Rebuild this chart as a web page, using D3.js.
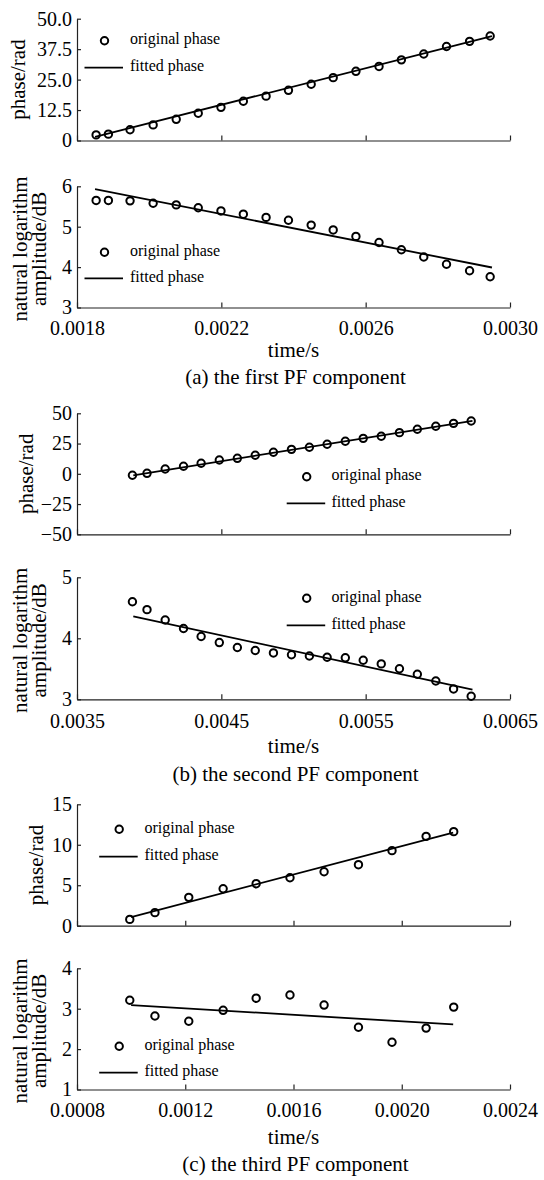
<!DOCTYPE html>
<html>
<head>
<meta charset="utf-8">
<script src="https://cdn.jsdelivr.net/npm/d3@7/dist/d3.min.js"></script>
<style>
  body { margin: 0; background: #fff; }
  svg text { font-family: "Liberation Serif", "Times New Roman", serif; fill: #000; }
</style>
</head>
<body>
<script>
// ---- (a) the first PF component ----
var timeA = [0.001853, 0.001887, 0.001947, 0.002011, 0.002075, 0.002136, 0.002199, 0.002261, 0.002324, 0.002386,
             0.002449, 0.002510, 0.002573, 0.002637, 0.002699, 0.002761, 0.002824, 0.002888, 0.002945];
var phaseA = [2.3, 2.6, 4.4, 6.4, 8.7, 11.2, 13.6, 16.1, 18.2, 20.6, 23.1, 25.8, 28.4, 30.4, 33.1, 35.5, 38.6, 40.7, 42.9];
var ampA = [5.65, 5.65, 5.64, 5.58, 5.54, 5.47, 5.39, 5.31, 5.23, 5.16, 5.04, 4.92, 4.76, 4.61, 4.43, 4.25, 4.07, 3.91, 3.76];
var fitTimeA = [0.00185, 0.00295];
var fitPhaseA = [1.5, 42.8];
var fitAmpA = [5.93, 3.99];
var xTicksA = [0.0018, 0.0022, 0.0026, 0.0030];
var xLabelsA = ["0.0018", "0.0022", "0.0026", "0.0030"];
var phaseTicksA = [0, 12.5, 25, 37.5, 50];
var phaseLabelsA = ["0", "12.5", "25.0", "37.5", "50.0"];
var ampTicksA = [3, 4, 5, 6];
var ampLabelsA = ["3", "4", "5", "6"];

// ---- (b) the second PF component ----
var timeB = [0.003884, 0.003985, 0.004111, 0.004238, 0.004360, 0.004486, 0.004611, 0.004735, 0.004861, 0.004986,
             0.005110, 0.005233, 0.005359, 0.005483, 0.005608, 0.005734, 0.005858, 0.005986, 0.006109, 0.006231];
var phaseB = [-1.2, 0.4, 4.0, 6.2, 8.7, 11.4, 12.8, 15.3, 17.8, 20.2, 21.9, 24.4, 26.9, 29.3, 31.0, 34.0, 36.8, 39.3, 41.7, 43.6];
var ampB = [4.60, 4.47, 4.30, 4.16, 4.03, 3.93, 3.85, 3.80, 3.76, 3.73, 3.71, 3.69, 3.68, 3.64, 3.58, 3.50, 3.41, 3.30, 3.17, 3.05];
var fitTimeB = [0.00389, 0.00624];
var fitPhaseB = [-1.3, 43.8];
var fitAmpB = [4.36, 3.16];
var xTicksB = [0.0035, 0.0045, 0.0055, 0.0065];
var xLabelsB = ["0.0035", "0.0045", "0.0055", "0.0065"];
var phaseTicksB = [-50, -25, 0, 25, 50];
var phaseLabelsB = ["\u221250", "\u221225", "0", "25", "50"];
var ampTicksB = [3, 4, 5];
var ampLabelsB = ["3", "4", "5"];

// ---- (c) the third PF component ----
var timeC = [0.000995, 0.001088, 0.001213, 0.001340, 0.001462, 0.001587, 0.001713, 0.001840, 0.001964, 0.002090, 0.002192];
var phaseC = [0.78, 1.61, 3.50, 4.57, 5.19, 5.93, 6.67, 7.54, 9.27, 11.04, 11.62];
var ampC = [3.21, 2.82, 2.69, 2.96, 3.26, 3.34, 3.09, 2.54, 2.17, 2.52, 3.04];
var fitTimeC = [0.0010, 0.00219];
var fitPhaseC = [1.07, 11.5];
var fitAmpC = [3.09, 2.61];
var xTicksC = [0.0008, 0.0012, 0.0016, 0.0020, 0.0024];
var xLabelsC = ["0.0008", "0.0012", "0.0016", "0.0020", "0.0024"];
var phaseTicksC = [0, 5, 10, 15];
var phaseLabelsC = ["0", "5", "10", "15"];
var ampTicksC = [1, 2, 3, 4];
var ampLabelsC = ["1", "2", "3", "4"];

var legendLabels = ["original phase", "fitted phase"];

// layout
var left = 77, right = 510;

var panels = [
  { caption: "(a) the first PF component", time: timeA, phase: phaseA, amp: ampA,
    fitTime: fitTimeA, fitPhase: fitPhaseA, fitAmp: fitAmpA,
    xTicks: xTicksA, xLabels: xLabelsA, phaseTicks: phaseTicksA, phaseLabels: phaseLabelsA,
    ampTicks: ampTicksA, ampLabels: ampLabelsA,
    phaseBox: [18.7, 140.5], ampBox: [186.3, 307.5], labelPad: 13, titleY: 357, captionY: 384,
    phaseLabelX: 25, phaseLeg: [104.5, 40.7, 67.7], ampLeg: [104.5, 252.3, 278.3], legX: 130 },
  { caption: "(b) the second PF component", time: timeB, phase: phaseB, amp: ampB,
    fitTime: fitTimeB, fitPhase: fitPhaseB, fitAmp: fitAmpB,
    xTicks: xTicksB, xLabels: xLabelsB, phaseTicks: phaseTicksB, phaseLabels: phaseLabelsB,
    ampTicks: ampTicksB, ampLabels: ampLabelsB,
    phaseBox: [413.3, 534.3], ampBox: [577.3, 699.3], labelPad: 15, titleY: 752.7, captionY: 780.5,
    phaseLabelX: 33, phaseLeg: [306.7, 476.7, 503.3], ampLeg: [306.7, 598.3, 625.3], legX: 331.5 },
  { caption: "(c) the third PF component", time: timeC, phase: phaseC, amp: ampC,
    fitTime: fitTimeC, fitPhase: fitPhaseC, fitAmp: fitAmpC,
    xTicks: xTicksC, xLabels: xLabelsC, phaseTicks: phaseTicksC, phaseLabels: phaseLabelsC,
    ampTicks: ampTicksC, ampLabels: ampLabelsC,
    phaseBox: [804.3, 925.7], ampBox: [968.3, 1089.5], labelPad: 13.5, titleY: 1144.3, captionY: 1171,
    phaseLabelX: 43, phaseLeg: [119.2, 829.3, 856.7], ampLeg: [119.2, 1046.3, 1072.7], legX: 144.5 }
];

var svg = d3.select("body").append("svg")
  .attr("width", 544)
  .attr("height", 1180);

function drawPlot(p, box, vals, fitVals, yTicks, yLabels, showX, leg) {
  var x = d3.scaleLinear().domain([p.xTicks[0], p.xTicks[p.xTicks.length - 1]]).range([left, right]);
  var y = d3.scaleLinear().domain([yTicks[0], yTicks[yTicks.length - 1]]).range([box[1], box[0]]);

  // x axis, ticks point inward
  var xAxis = d3.axisBottom(x)
    .tickValues(p.xTicks)
    .tickSizeInner(-5)
    .tickSizeOuter(0)
    .tickPadding(p.labelPad)
    .tickFormat(function (d, i) { return showX ? p.xLabels[i] : ""; });
  var gx = svg.append("g").attr("transform", "translate(0," + box[1] + ")").call(xAxis);

  // y axis
  var yAxis = d3.axisLeft(y)
    .tickValues(yTicks)
    .tickSizeInner(-4)
    .tickSizeOuter(0)
    .tickPadding(5)
    .tickFormat(function (d, i) { return yLabels[i]; });
  var gy = svg.append("g").attr("transform", "translate(" + left + ",0)").call(yAxis);

  [gx, gy].forEach(function (g) {
    g.select(".domain").attr("stroke", "#222").attr("stroke-width", 1.2);
    g.selectAll(".tick line").attr("stroke", "#222").attr("stroke-width", 1.2);
    g.selectAll(".tick text").style("font-size", "20px").attr("fill", "#000");
  });

  // fitted line
  var line = d3.line()
    .x(function (d) { return x(d[0]); })
    .y(function (d) { return y(d[1]); });
  svg.append("path")
    .datum(d3.zip(p.fitTime, fitVals))
    .attr("d", line)
    .attr("fill", "none")
    .attr("stroke", "#000")
    .attr("stroke-width", 1.8);

  // original points
  svg.append("g").selectAll("circle")
    .data(d3.zip(p.time, vals))
    .enter()
    .append("circle")
    .attr("cx", function (d) { return x(d[0]); })
    .attr("cy", function (d) { return y(d[1]); })
    .attr("r", 3.7)
    .attr("fill", "none")
    .attr("stroke", "#000")
    .attr("stroke-width", 2);

  // legend
  var lg = svg.append("g");
  lg.append("circle")
    .attr("cx", leg[0]).attr("cy", leg[1]).attr("r", 3.7)
    .attr("fill", "none").attr("stroke", "#000").attr("stroke-width", 2);
  lg.append("line")
    .attr("x1", leg[0] - 20).attr("x2", leg[0] + 18.5)
    .attr("y1", leg[2]).attr("y2", leg[2])
    .attr("stroke", "#000").attr("stroke-width", 1.8);
  lg.selectAll("text")
    .data(legendLabels)
    .enter()
    .append("text")
    .attr("x", p.legX)
    .attr("y", function (d, i) { return i === 0 ? leg[1] : leg[2]; })
    .attr("dy", "0.22em")
    .style("font-size", "16px")
    .text(function (d) { return d; });
}

panels.forEach(function (p) {
  drawPlot(p, p.phaseBox, p.phase, p.fitPhase, p.phaseTicks, p.phaseLabels, false, p.phaseLeg);
  drawPlot(p, p.ampBox, p.amp, p.fitAmp, p.ampTicks, p.ampLabels, true, p.ampLeg);

  // y axis titles
  var phaseMid = (p.phaseBox[0] + p.phaseBox[1]) / 2;
  svg.append("text")
    .attr("transform", "translate(" + p.phaseLabelX + "," + phaseMid + ") rotate(-90)")
    .attr("text-anchor", "middle")
    .style("font-size", "21px")
    .text("phase/rad");

  var ampMid = (p.ampBox[0] + p.ampBox[1]) / 2 + 2;
  svg.append("text")
    .attr("transform", "translate(27," + ampMid + ") rotate(-90)")
    .attr("text-anchor", "middle")
    .style("font-size", "21px")
    .text("natural logarithm");
  svg.append("text")
    .attr("transform", "translate(46," + ampMid + ") rotate(-90)")
    .attr("text-anchor", "middle")
    .style("font-size", "21px")
    .text("amplitude/dB");

  // x title and caption
  svg.append("text")
    .attr("x", (left + right) / 2)
    .attr("y", p.titleY)
    .attr("text-anchor", "middle")
    .style("font-size", "21px")
    .text("time/s");
  svg.append("text")
    .attr("x", (left + right) / 2 + 2)
    .attr("y", p.captionY)
    .attr("text-anchor", "middle")
    .style("font-size", "21px")
    .text(p.caption);
});
</script>
</body>
</html>
